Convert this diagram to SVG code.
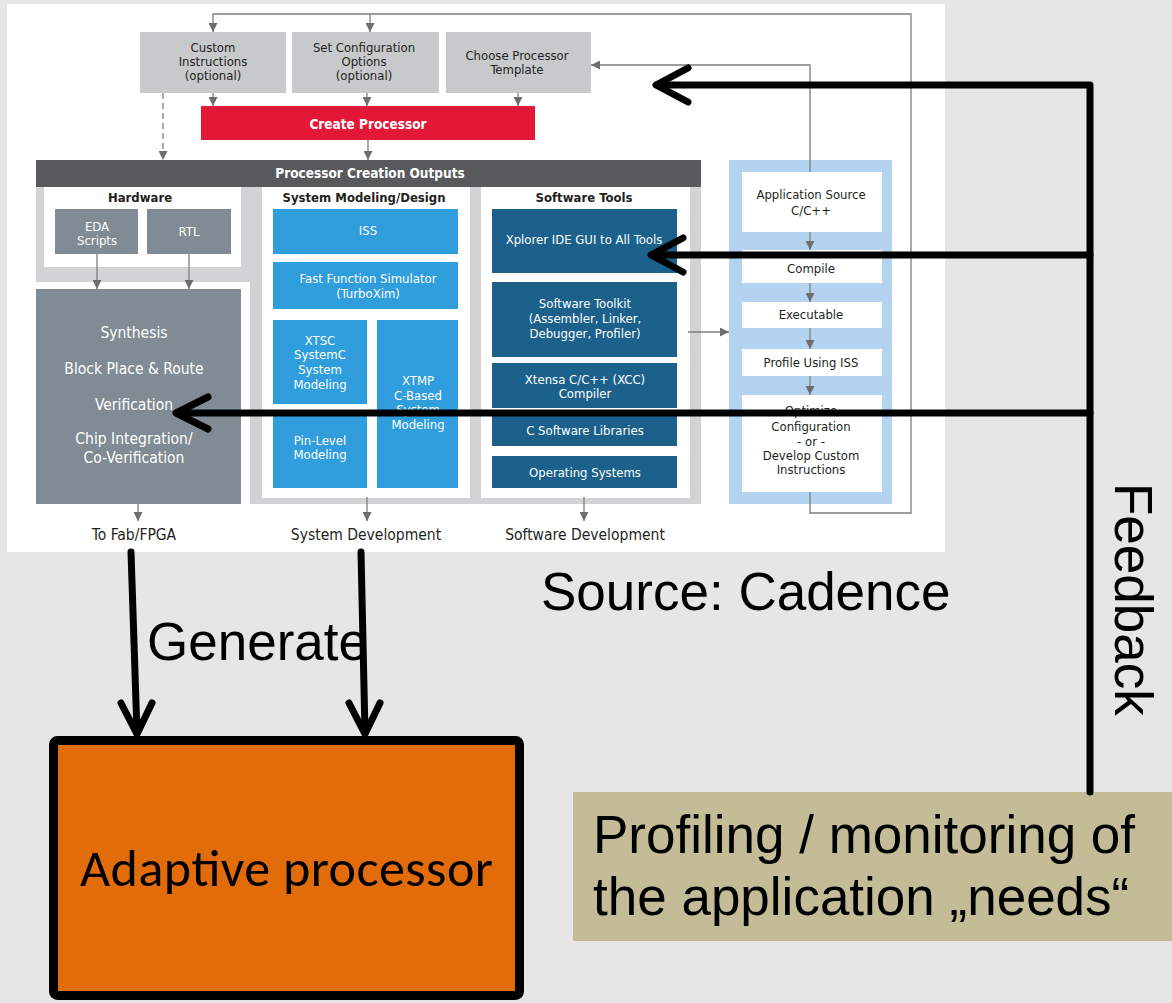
<svg xmlns="http://www.w3.org/2000/svg" width="1172" height="1003" viewBox="0 0 1172 1003">
<defs>
<style>
.cd{font-family:"Liberation Sans Narrow","DejaVu Sans Condensed","Liberation Sans",sans-serif;font-size:13px;text-anchor:middle;fill:#231f20}
.w{fill:#ffffff}
.b{font-weight:bold}
.big{font-size:15.5px}
.lab{font-size:15.5px}
.gl{fill:none;stroke:#7d7d7d;stroke-width:1.3}
.bk{fill:none;stroke:#000;stroke-width:7;stroke-linecap:round;stroke-linejoin:round}
.hv{font-family:"Liberation Sans",Arial,sans-serif;font-size:53px;fill:#000}
.grey{fill:#c8c9cb}
.slate{fill:#808b95}
.lb{fill:#309ddd}
.db{fill:#1b618c}
.wb{fill:#ffffff}
</style>
<marker id="ga" viewBox="0 0 10 10" refX="10" refY="5" markerWidth="9" markerHeight="9" markerUnits="userSpaceOnUse" orient="auto">
<path d="M0,0 L10,5 L0,10 z" fill="#6d6e70"/>
</marker>
</defs>
<rect x="0" y="0" width="1172" height="1003" fill="#e6e6e6"/>
<rect x="7" y="4" width="938" height="548" fill="#ffffff"/>

<!-- top boxes -->
<g id="custom-instructions">
<rect x="140" y="32" width="146" height="61" class="grey"/>
<text class="cd" x="213" y="52">Custom</text>
<text class="cd" x="213" y="66">Instructions</text>
<text class="cd" x="213" y="80">(optional)</text>
</g>
<g id="set-configuration">
<rect x="292" y="32" width="147" height="61" class="grey"/>
<text class="cd" x="364" y="52">Set Configuration</text>
<text class="cd" x="364" y="66">Options</text>
<text class="cd" x="364" y="80">(optional)</text>
</g>
<g id="choose-template">
<rect x="446" y="32" width="145" height="61" class="grey"/>
<text class="cd" x="517" y="60">Choose Processor</text>
<text class="cd" x="517" y="74">Template</text>
</g>
<g id="create-processor">
<rect x="201" y="106" width="334" height="34" fill="#e31837"/>
<text class="cd w b" x="368" y="128.5" style="font-size:13.5px">Create Processor</text>
</g>

<!-- outputs -->
<g id="processor-creation-outputs">
<rect x="36" y="187" width="214" height="95" fill="#d1d3d4"/>
<rect x="250" y="187" width="451" height="317" fill="#d1d3d4"/>
<rect x="36" y="160" width="665" height="27" fill="#58595b"/>
<text class="cd w b" x="370" y="178" style="font-size:13.5px">Processor Creation Outputs</text>
</g>
<g id="hardware">
<rect x="44" y="187" width="197" height="80" class="wb"/>
<text class="cd b" x="140" y="202">Hardware</text>
</g>
<g id="eda-scripts">
<rect x="55" y="209" width="83" height="45" class="slate"/>
<text class="cd w" x="97" y="231">EDA</text>
<text class="cd w" x="97" y="245">Scripts</text>
</g>
<g id="rtl">
<rect x="147" y="209" width="84" height="45" class="slate"/>
<text class="cd w" x="189" y="236">RTL</text>
</g>
<g id="synthesis">
<rect x="36" y="289" width="205" height="215" class="slate"/>
<text class="cd w big" x="134" y="338">Synthesis</text>
<text class="cd w big" x="134" y="374">Block Place &amp; Route</text>
<text class="cd w big" x="134" y="410">Verification</text>
<text class="cd w big" x="134" y="444">Chip Integration/</text>
<text class="cd w big" x="134" y="463">Co-Verification</text>
</g>
<g id="system-modeling">
<rect x="262" y="187" width="208" height="311" class="wb"/>
<text class="cd b" x="364" y="202">System Modeling/Design</text>
</g>
<g id="iss">
<rect x="273" y="209" width="185" height="45" class="lb"/>
<text class="cd w" x="368" y="235">ISS</text>
</g>
<g id="fast-function-simulator">
<rect x="273" y="262" width="185" height="47" class="lb"/>
<text class="cd w" x="368" y="283">Fast Function Simulator</text>
<text class="cd w" x="368" y="298">(TurboXim)</text>
</g>
<g id="xtsc">
<rect x="273" y="320" width="94" height="84" class="lb"/>
<text class="cd w" x="320" y="345">XTSC</text>
<text class="cd w" x="320" y="359">SystemC</text>
<text class="cd w" x="320" y="374">System</text>
<text class="cd w" x="320" y="389">Modeling</text>
</g>
<g id="pin-level">
<rect x="273" y="414" width="94" height="74" class="lb"/>
<text class="cd w" x="320" y="445">Pin-Level</text>
<text class="cd w" x="320" y="459">Modeling</text>
</g>
<g id="xtmp">
<rect x="377" y="320" width="81" height="168" class="lb"/>
<text class="cd w" x="418" y="385">XTMP</text>
<text class="cd w" x="418" y="400">C-Based</text>
<text class="cd w" x="418" y="414">System</text>
<text class="cd w" x="418" y="429">Modeling</text>
</g>
<g id="software-tools">
<rect x="481" y="187" width="209" height="311" class="wb"/>
<text class="cd b" x="584" y="202">Software Tools</text>
</g>
<g id="xplorer">
<rect x="492" y="209" width="185" height="64" class="db"/>
<text class="cd w" x="584" y="244">Xplorer IDE GUI to All Tools</text>
</g>
<g id="software-toolkit">
<rect x="492" y="282" width="185" height="75" class="db"/>
<text class="cd w" x="585" y="308">Software Toolkit</text>
<text class="cd w" x="585" y="323">(Assembler, Linker,</text>
<text class="cd w" x="585" y="338">Debugger, Profiler)</text>
</g>
<g id="xtensa-compiler">
<rect x="492" y="363" width="185" height="45" class="db"/>
<text class="cd w" x="585" y="384">Xtensa C/C++ (XCC)</text>
<text class="cd w" x="585" y="398">Compiler</text>
</g>
<g id="c-libraries">
<rect x="492" y="414" width="185" height="32" class="db"/>
<text class="cd w" x="585" y="435">C Software Libraries</text>
</g>
<g id="operating-systems">
<rect x="492" y="456" width="185" height="32" class="db"/>
<text class="cd w" x="585" y="477">Operating Systems</text>
</g>

<!-- application flow -->
<g id="application-flow">
<rect x="729" y="160" width="163" height="344" fill="#b4d3f0"/>
</g>
<g id="application-source">
<rect x="742" y="172" width="140" height="60" class="wb"/>
<text class="cd" x="811" y="199">Application Source</text>
<text class="cd" x="811" y="215">C/C++</text>
</g>
<g id="compile">
<rect x="742" y="250" width="140" height="33" class="wb"/>
<text class="cd" x="811" y="273">Compile</text>
</g>
<g id="executable">
<rect x="742" y="302" width="140" height="26" class="wb"/>
<text class="cd" x="811" y="319">Executable</text>
</g>
<g id="profile-iss">
<rect x="742" y="349" width="140" height="27" class="wb"/>
<text class="cd" x="811" y="367">Profile Using ISS</text>
</g>
<g id="optimize">
<rect x="742" y="395" width="140" height="97" class="wb"/>
<text class="cd" x="811" y="415">Optimize</text>
<text class="cd" x="811" y="431">Configuration</text>
<text class="cd" x="811" y="446">- or -</text>
<text class="cd" x="811" y="460">Develop Custom</text>
<text class="cd" x="811" y="474">Instructions</text>
</g>

<g id="outputs-labels">
<text class="cd lab" x="134" y="540">To Fab/FPGA</text>
<text class="cd lab" x="366" y="540">System Development</text>
<text class="cd lab" x="585" y="540">Software Development</text>
</g>

<!-- gray connectors -->
<g id="connectors">
<path class="gl" d="M810 492 V513 H911 V14 H213 V32" marker-end="url(#ga)"/>
<path class="gl" d="M370 14 V32" marker-end="url(#ga)"/>
<path class="gl" d="M810 172 V65 H591" marker-end="url(#ga)"/>
<path class="gl" d="M213 93 V106" marker-end="url(#ga)"/>
<path class="gl" d="M367 93 V106" marker-end="url(#ga)"/>
<path class="gl" d="M518 93 V106" marker-end="url(#ga)"/>
<path class="gl" d="M163 93 V160" stroke-dasharray="6,4" marker-end="url(#ga)"/>
<path class="gl" d="M368 140 V160" marker-end="url(#ga)"/>
<path class="gl" d="M97 254 V289" marker-end="url(#ga)"/>
<path class="gl" d="M189 254 V289" marker-end="url(#ga)"/>
<path class="gl" d="M138 504 V521" marker-end="url(#ga)"/>
<path class="gl" d="M367 497 V521" marker-end="url(#ga)"/>
<path class="gl" d="M584 497 V521" marker-end="url(#ga)"/>
<path class="gl" d="M688 332 H729" marker-end="url(#ga)"/>
<path class="gl" d="M810 232 V250" marker-end="url(#ga)"/>
<path class="gl" d="M810 283 V302" marker-end="url(#ga)"/>
<path class="gl" d="M810 328 V349" marker-end="url(#ga)"/>
<path class="gl" d="M810 376 V395" marker-end="url(#ga)"/>
</g>

<text class="hv" x="541" y="610">Source: Cadence</text>

<g id="adaptive-processor">
<rect x="53.5" y="740.5" width="466" height="255" rx="4" fill="#e36c0a" stroke="#000" stroke-width="9"/>
<text x="80" y="886" textLength="413" style="font-family:Carlito,Lato,'Open Sans',sans-serif;font-size:52px;fill:#000">Adaptive processor</text>
</g>

<g id="profiling">
<rect x="573" y="792" width="599" height="149" fill="#c4bc97"/>
<text class="hv" x="593" y="853">Profiling / monitoring of</text>
<text class="hv" x="593" y="915">the application „needs“</text>
</g>

<!-- thick black feedback / generate connectors -->
<g id="feedback-connectors">
<path class="bk" d="M1090 792 V85 H657"/>
<path class="bk" d="M688 68 L656 85 L688 102"/>
<path class="bk" d="M1090 255 H652"/>
<path class="bk" d="M683 238 L651 255 L683 272"/>
<path class="bk" d="M1090 413 H177"/>
<path class="bk" d="M208 397 L176 413 L208 429"/>
<path class="bk" d="M131 552 L137 733"/>
<path class="bk" d="M121 703 L137 734 L152 703"/>
<path class="bk" d="M361 552 L365 733"/>
<path class="bk" d="M349 703 L365 734 L380 703"/>
</g>

<text class="hv" x="0" y="0" transform="translate(1115,483) rotate(90)">Feedback</text>
<text class="hv" x="147" y="660">Generate</text>
</svg>
